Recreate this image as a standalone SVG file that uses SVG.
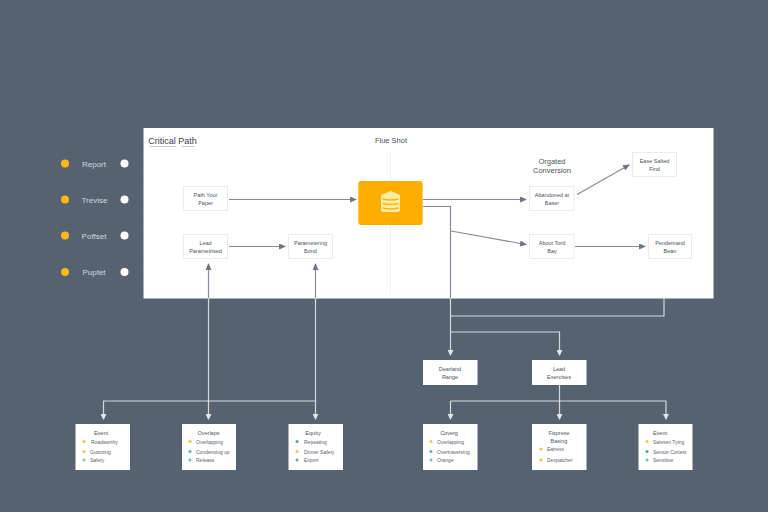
<svg xmlns="http://www.w3.org/2000/svg" width="768" height="512" viewBox="0 0 768 512">
<style>
.t{font-family:"Liberation Sans",Arial,sans-serif;text-anchor:middle;fill:#4b5260}
.s{font-size:5.5px}
.l{font-size:8px;fill:#d3d7dc}
.n{fill:#fff;stroke:#e9ebf2;stroke-width:1}
.c{fill:#fff}
.d{fill:none;stroke:#858b98;stroke-width:1.2}
.w{fill:none;stroke:#d5d9de;stroke-width:1.2}
.i{font-size:5px;text-anchor:start;fill:#5d6470;font-family:"Liberation Sans",Arial,sans-serif}
</style>
<defs>
<marker id="a" markerWidth="7" markerHeight="6" refX="6" refY="3" orient="auto" markerUnits="userSpaceOnUse"><path d="M0 0L7 3L0 6z" fill="#6f7583"/></marker>
<marker id="b" markerWidth="6" markerHeight="6" refX="5" refY="3" orient="auto" markerUnits="userSpaceOnUse"><path d="M0 0L6 3L0 6z" fill="#e2e5e8"/></marker>
<pattern id="p" width="14" height="14" patternUnits="userSpaceOnUse"><circle cx="3" cy="3" r=".4" fill="#f3f4f7"/></pattern>
</defs>
<rect width="768" height="512" fill="#566270"/>
<g id="panel">
<rect x="143.5" y="128" width="570" height="170.500" fill="#fff"/>
<rect x="143.5" y="128" width="570" height="170.500" fill="url(#p)"/>
<line x1="390.500" y1="152" x2="390.500" y2="295" stroke="#f1f2f6"/>
<text x="172.500" y="144" font-size="9" class="t" style="fill:#3b404b">Critical Path</text>
<path d="M150 146.500H176M182 146.500H195" stroke="#aab0bb" stroke-width=".7" fill="none"/>
<text x="391" y="143" font-size="7.500" class="t">Flue Shot</text>
<text x="552" y="164" font-size="7.500" class="t">Orgated</text>
<text x="552" y="173" font-size="7.500" class="t">Conversion</text>
</g>
<g id="legend">
<g fill="#fdb913"><circle cx="65" cy="163.500" r="4"/><circle cx="65" cy="199.500" r="4"/><circle cx="65" cy="235.500" r="4"/><circle cx="65" cy="272" r="4"/></g>
<g fill="#fff"><circle cx="124.500" cy="163.500" r="4"/><circle cx="124.500" cy="199.500" r="4"/><circle cx="124.500" cy="235.500" r="4"/><circle cx="124.500" cy="272" r="4"/></g>
<text x="94" y="166.500" class="t l">Report</text>
<text x="94.500" y="202.500" class="t l">Trevise</text>
<text x="94" y="238.500" class="t l">Poffset</text>
<text x="94" y="275" class="t l">Pupfet</text>
</g>
<g id="connectors">
<path class="d" d="M229 199.500H356" marker-end="url(#a)"/>
<path class="d" d="M229 246.500H285" marker-end="url(#a)"/>
<path class="d" d="M423 199.500H526" marker-end="url(#a)"/>
<path class="d" d="M577 194.500L629 165" marker-end="url(#a)"/>
<path class="d" d="M451 231L526 244.500" marker-end="url(#a)"/>
<path class="d" d="M575 246.500H645" marker-end="url(#a)"/>
<path class="d" d="M423 206.500H450.500V298"/>
<path class="w" d="M450.500 298V355" marker-end="url(#b)"/>
<path class="w" d="M450.500 316H664V298"/>
<path class="w" d="M450.500 332H559.500V355" marker-end="url(#b)"/>
<path class="w" d="M559.500 385V419" marker-end="url(#b)"/>
<path class="w" d="M450.500 401H666V419" marker-end="url(#b)"/>
<path class="w" d="M450.500 401V419" marker-end="url(#b)"/>
<path class="w" d="M208.500 298V419" marker-end="url(#b)"/>
<path class="w" d="M315.500 298V419" marker-end="url(#b)"/>
<path class="w" d="M315.500 401H103.500V419" marker-end="url(#b)"/>
<path class="d" d="M208.500 298V264" marker-end="url(#a)"/>
<path class="d" d="M315.500 298V264" marker-end="url(#a)"/>
</g>
<g id="hub"><rect x="358.300" y="181" width="64.400" height="44" rx="3" fill="#ffae00"/>
<path d="M381 195L390.500 191L400 195V210.500L398.500 212H382.500L381 210.500Z" fill="#fdeca6"/>
<path d="M382.500 199Q390.500 201 398.500 199M382.500 203.500Q390.500 205.500 398.500 203.500M382.500 208Q390.500 210 398.500 208" stroke="#f2b90f" stroke-width="1.400" fill="none"/></g>
<g id="n1"><rect class="n" x="183.500" y="186.500" width="44" height="24"/><text class="t s" x="205.500" y="197">Path Your</text><text class="t s" x="205.500" y="204.500">Paper</text></g>
<g id="n2"><rect class="n" x="183.500" y="234.500" width="44" height="24"/><text class="t s" x="205.500" y="245">Lead</text><text class="t s" x="205.500" y="252.500">Parametrised</text></g>
<g id="n3"><rect class="n" x="288.500" y="234.500" width="44" height="24"/><text class="t s" x="310.500" y="245">Parametering</text><text class="t s" x="310.500" y="252.500">Bond</text></g>
<g id="n4"><rect class="n" x="529.500" y="186.500" width="44.500" height="24"/><text class="t s" x="552" y="197">Abandoned at</text><text class="t s" x="552" y="204.500">Baser</text></g>
<g id="n5"><rect class="n" x="529.500" y="234.500" width="44.500" height="24"/><text class="t s" x="552" y="245">About Tord</text><text class="t s" x="552" y="252.500">Bay</text></g>
<g id="n6"><rect class="n" x="632.500" y="152.500" width="44" height="24"/><text class="t s" x="654.500" y="163">Ease Salted</text><text class="t s" x="654.500" y="170.500">Find</text></g>
<g id="n7"><rect class="n" x="648.500" y="234.500" width="43" height="24"/><text class="t s" x="670" y="245">Pendemand</text><text class="t s" x="670" y="252.500">Bean</text></g>
<g id="n8"><rect class="c" x="423" y="360" width="54.500" height="25"/><text class="t s" x="450" y="371">Dearland</text><text class="t s" x="450" y="379">Range</text></g>
<g id="n9"><rect class="c" x="532" y="360" width="54.500" height="25"/><text class="t s" x="559" y="371">Lead</text><text class="t s" x="559" y="379">Exercises</text></g>
<g id="c1"><rect class="c" x="75.500" y="424" width="54.500" height="46"/><text class="t s" x="101" y="435">Event</text><circle cx="84" cy="441.500" r="1.500" fill="#f5c242"/><circle cx="84" cy="451.500" r="1.500" fill="#f5c242"/><circle cx="84" cy="460" r="1.500" fill="#9fc28b"/><text class="i" x="91" y="443.500">Roadworthy</text><text class="i" x="90" y="453.500">Gutsizing</text><text class="i" x="90" y="462">Safety</text></g>
<g id="c2"><rect class="c" x="182" y="424" width="54" height="46"/><text class="t s" x="208.500" y="435">Overlaps</text><circle cx="190" cy="441.500" r="1.500" fill="#f5c242"/><circle cx="190" cy="451.500" r="1.500" fill="#5db5b0"/><circle cx="190" cy="460" r="1.500" fill="#7ab8c4"/><text class="i" x="196" y="443.500">Overlapping</text><text class="i" x="196" y="453.500">Condensing up</text><text class="i" x="196" y="462">Release</text></g>
<g id="c3"><rect class="c" x="288.500" y="424" width="54.500" height="46"/><text class="t s" x="313" y="435">Equity</text><circle cx="297" cy="441.500" r="1.500" fill="#4aa88a"/><circle cx="297" cy="451.500" r="1.500" fill="#f5c242"/><circle cx="297" cy="460" r="1.500" fill="#7a9cc4"/><text class="i" x="304" y="443.500">Repeating</text><text class="i" x="304" y="453.500">Dinner Safety</text><text class="i" x="304" y="462">Export</text></g>
<g id="c4"><rect class="c" x="423" y="424" width="54.500" height="46"/><text class="t s" x="449" y="435">Coverg</text><circle cx="431" cy="441.500" r="1.500" fill="#f5c242"/><circle cx="431" cy="451.500" r="1.500" fill="#5db5b0"/><circle cx="431" cy="460" r="1.500" fill="#7ab8c4"/><text class="i" x="437" y="443.500">Overlapping</text><text class="i" x="437" y="453.500">Overtraversing</text><text class="i" x="437" y="462">Orange</text></g>
<g id="c5"><rect class="c" x="532" y="424" width="54.500" height="46"/><text class="t s" x="559" y="435">Fisprese</text><text class="t s" x="559" y="443">Basing</text><circle cx="541" cy="449" r="1.500" fill="#f5c242"/><circle cx="541" cy="460" r="1.500" fill="#f5c242"/><text class="i" x="547" y="451">Eatress</text><text class="i" x="547" y="462">Despatcher</text></g>
<g id="c6"><rect class="c" x="638.500" y="424" width="54" height="46"/><text class="t s" x="660" y="435">Event</text><circle cx="647" cy="441.500" r="1.500" fill="#f5c242"/><circle cx="647" cy="451.500" r="1.500" fill="#4aa88a"/><circle cx="647" cy="460" r="1.500" fill="#7ab8c4"/><text class="i" x="653" y="443.500">Salesen Tying</text><text class="i" x="653" y="453.500">Sensor Cortest</text><text class="i" x="653" y="462">Sensitive</text></g>
</svg>
